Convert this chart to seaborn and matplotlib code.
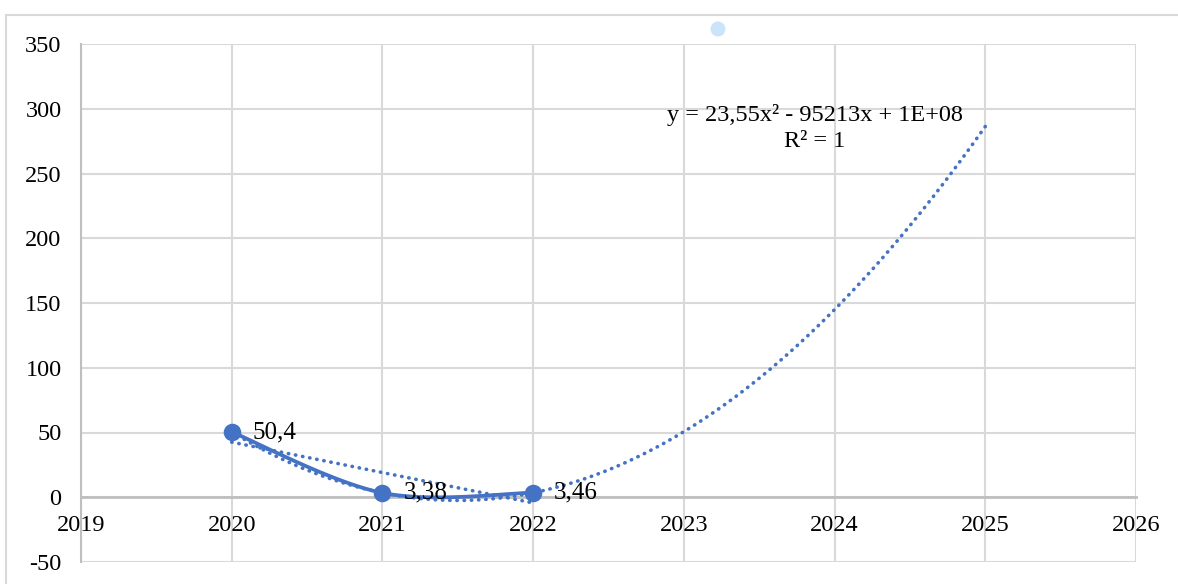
import numpy as np
import pandas as pd
import matplotlib
matplotlib.use("Agg")
import matplotlib.pyplot as plt
from matplotlib.patches import Rectangle, Ellipse
import seaborn as sns

# Observed values
years = [2020, 2021, 2022]
values = [50.4, 3.38, 3.46]
value_labels = ["50,4", "3,38", "3,46"]

x_ticks = [2019, 2020, 2021, 2022, 2023, 2024, 2025, 2026]
y_ticks = [-50, 0, 50, 100, 150, 200, 250, 300, 350]

BLUE = "#4472C4"
GRID = "#D9D9D9"
AXIS = "#BFBFBF"

sns.set_theme(style="white")
plt.rcParams["font.family"] = ["Liberation Serif", "DejaVu Serif"]

df = pd.DataFrame({"year": years, "value": values})


def smooth_curve(xs, ys, n=60):
    """Piecewise cubic Bezier through the points (spreadsheet-style smoothing)."""
    xs = np.asarray(xs, float)
    ys = np.asarray(ys, float)
    pts = np.column_stack([xs, ys])
    out = []
    for i in range(len(pts) - 1):
        p0 = pts[i - 1] if i > 0 else pts[i]
        p1, p2 = pts[i], pts[i + 1]
        p3 = pts[i + 2] if i + 2 < len(pts) else pts[i + 1]
        c1 = p1 + (p2 - p0) / 6.0
        c2 = p2 - (p3 - p1) / 6.0
        t = np.linspace(0, 1, n)[:, None]
        seg = ((1 - t) ** 3) * p1 + 3 * ((1 - t) ** 2) * t * c1 + 3 * (1 - t) * t ** 2 * c2 + t ** 3 * p2
        out.append(seg if i == 0 else seg[1:])
    arr = np.vstack(out)
    return arr[:, 0], arr[:, 1]


fig = plt.figure(figsize=(11.78, 5.84), dpi=100)
ax = fig.add_axes([81 / 1178, 1 - 562 / 584, (1136 - 81) / 1178, (562 - 44) / 584])

# Trend lines
t0 = years[0]
xr = np.array(years, float) - t0
quad = np.polyfit(xr, values, 2)
lin = np.polyfit(xr, values, 1)

xq = np.linspace(years[0], 2025, 300)
yq = np.polyval(quad, xq - t0)
xl = np.linspace(years[0], years[-1], 100)
yl = np.polyval(lin, xl - t0)

dot_style = dict(color=BLUE, lw=2.6, linestyle=(0, (0.1, 1.9)), dash_capstyle="round", zorder=3)
ax.plot(xl, yl, **dot_style)
ax.plot(xq, yq, **dot_style)

# Smoothed series line and markers
sx, sy = smooth_curve(years, values)
sns.lineplot(x=sx, y=sy, ax=ax, color=BLUE, lw=2.7, sort=False, zorder=4)
sns.scatterplot(data=df, x="year", y="value", ax=ax, color=BLUE, s=160,
                edgecolor=BLUE, linewidth=0, zorder=5)

# Data labels
for xv, yv, lab in zip(years, values, value_labels):
    ax.annotate(lab, (xv, yv), xytext=(15, 0), textcoords="offset points",
                ha="left", va="center", fontsize=18, color="#000000", zorder=6)

# Trendline equation (coefficients in calendar-year terms)
a, b_t, c_t = quad
b = b_t - 2 * a * t0
c = a * t0 ** 2 - b_t * t0 + c_t
eq = f"y = {a:.2f}x² - {abs(b):.0f}x + {c:.0E}".replace(".", ",")
ax.text(2023.87, 295, eq, ha="center", va="center", fontsize=17.5, color="#000000")
ax.text(2023.87, 274.5, "R² = 1", ha="center", va="center", fontsize=17.5, color="#000000")

# Axes
ax.set_xlim(2019, 2026)
ax.set_ylim(-50, 350)
ax.set_xticks(x_ticks)
ax.set_yticks(y_ticks)
ax.set_xticklabels([str(v) for v in x_ticks])
ax.set_yticklabels([str(v) for v in y_ticks])
ax.grid(True, color=GRID, lw=1.5)
ax.set_axisbelow(True)
for side in ["right", "top"]:
    ax.spines[side].set_visible(False)
ax.spines["left"].set_color(AXIS)
ax.spines["left"].set_linewidth(1.5)
ax.spines["bottom"].set_position(("data", 0))
ax.spines["bottom"].set_color(AXIS)
ax.spines["bottom"].set_linewidth(2)
ax.spines["bottom"].set_zorder(2)
ax.tick_params(axis="x", length=0, pad=13, labelsize=17.5, colors="#000000")
ax.tick_params(axis="y", length=0, pad=14, labelsize=17.5, colors="#000000")
ax.set_xlabel("")
ax.set_ylabel("")

# Chart area frame and selection handle
fig.add_artist(Rectangle((6 / 1178, -0.05), 1.1, 1 - 15 / 584 + 0.05,
                         transform=fig.transFigure, fill=False, edgecolor=GRID, lw=1.5))
fig.add_artist(Ellipse((718 / 1178, 1 - 29 / 584), 15 / 1178, 15 / 584,
                       transform=fig.transFigure, facecolor="#CCE4FA", edgecolor="none"))

fig.savefig("out.png", dpi=100, facecolor="white")
